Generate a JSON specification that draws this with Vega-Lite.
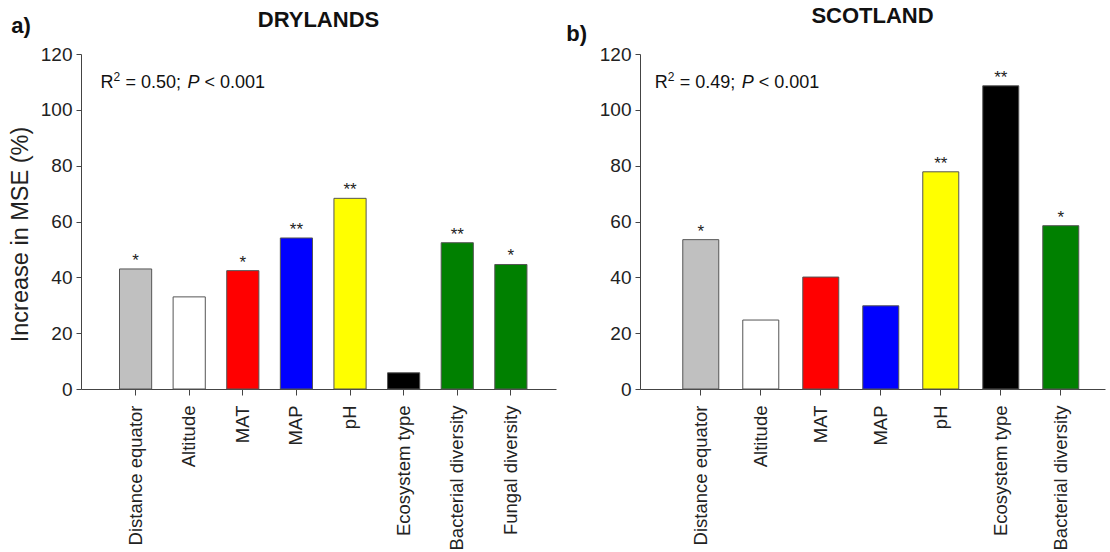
{
  "$schema": "https://vega.github.io/schema/vega-lite/v6.json",
  "padding": {"left": 8, "top": 5, "right": 5, "bottom": 0},
  "config": {
    "font": "Liberation Sans",
    "view": {"stroke": null},
    "axis": {"grid": false, "domainColor": "#444444", "tickColor": "#444444", "labelColor": "#222222", "titleColor": "#222222", "labelFont": "Liberation Sans", "titleFont": "Liberation Sans"}
  },
  "datasets": {
    "drylands": [
      {"variable": "Distance equator", "value": 43.0, "sig": "*"},
      {"variable": "Altitude", "value": 33.0, "sig": ""},
      {"variable": "MAT", "value": 42.4, "sig": "*"},
      {"variable": "MAP", "value": 54.1, "sig": "**"},
      {"variable": "pH", "value": 68.3, "sig": "**"},
      {"variable": "Ecosystem type", "value": 5.8, "sig": ""},
      {"variable": "Bacterial diversity", "value": 52.4, "sig": "**"},
      {"variable": "Fungal diversity", "value": 44.6, "sig": "*"}
    ],
    "scotland": [
      {"variable": "Distance equator", "value": 53.5, "sig": "*"},
      {"variable": "Altitude", "value": 24.7, "sig": ""},
      {"variable": "MAT", "value": 40.1, "sig": ""},
      {"variable": "MAP", "value": 29.8, "sig": ""},
      {"variable": "pH", "value": 77.8, "sig": "**"},
      {"variable": "Ecosystem type", "value": 108.6, "sig": "**"},
      {"variable": "Bacterial diversity", "value": 58.5, "sig": "*"}
    ]
  },
  "hconcat": [
    {
      "title": {"text": "a)", "anchor": "start", "frame": "bounds", "fontSize": 22, "fontWeight": "bold", "color": "#111111", "baseline": "alphabetic", "offset": -46, "dx": 3},
      "vconcat": [
        {
          "width": 475,
          "height": 335,
          "title": {"text": "DRYLANDS", "anchor": "middle", "frame": "group", "fontSize": 22, "fontWeight": "bold", "color": "#111111", "baseline": "alphabetic", "offset": -4},
          "data": {"name": "drylands"},
          "encoding": {
            "x": {
              "field": "variable", "type": "nominal", "sort": null,
              "scale": {"paddingInner": 0.4, "paddingOuter": 0.63, "align": 0.57},
              "axis": {"title": null, "labelAngle": 270, "labelAlign": "right", "labelBaseline": "middle", "labelFontSize": 18.5, "labelPadding": 10, "tickSize": 6, "labelLimit": 300}
            }
          },
          "layer": [
            {
              "mark": {"type": "bar", "stroke": "#555555", "strokeWidth": 1},
              "encoding": {
                "y": {
                  "field": "value", "type": "quantitative",
                  "scale": {"domain": [0, 120], "nice": false},
                  "axis": {"title": "Increase in MSE (%)", "titleFontSize": 23.5, "titleFontWeight": "normal", "titlePadding": 8, "titleY": 180, "values": [0, 20, 40, 60, 80, 100, 120], "labelFontSize": 19, "tickSize": 5, "labelPadding": 4}
                },
                "color": {
                  "field": "variable", "type": "nominal", "legend": null,
                  "scale": {
                    "domain": ["Distance equator", "Altitude", "MAT", "MAP", "pH", "Ecosystem type", "Bacterial diversity", "Fungal diversity"],
                    "range": ["#c0c0c0", "#ffffff", "#ff0000", "#0000ff", "#ffff00", "#000000", "#008000", "#008000"]
                  }
                }
              }
            },
            {
              "mark": {"type": "text", "baseline": "alphabetic", "dy": -3, "fontSize": 17, "color": "#222222"},
              "encoding": {
                "y": {"field": "value", "type": "quantitative"},
                "text": {"field": "sig"}
              }
            },
            {
              "data": {"values": [{"r2": 0.5}]},
              "mark": {"type": "text", "text": "R", "align": "left", "baseline": "alphabetic", "fontSize": 18, "color": "#111111", "dx": -19},
              "encoding": {"x": {"datum": "Distance equator", "bandPosition": 0}, "y": {"datum": 108}}
            },
            {
              "data": {"values": [{"r2": 0.5}]},
              "mark": {"type": "text", "text": "2", "align": "left", "baseline": "alphabetic", "fontSize": 12, "color": "#111111", "dx": -6, "dy": -7},
              "encoding": {"x": {"datum": "Distance equator", "bandPosition": 0}, "y": {"datum": 108}}
            },
            {
              "data": {"values": [{"r2": 0.5}]},
              "mark": {"type": "text", "text": "= 0.50;", "align": "left", "baseline": "alphabetic", "fontSize": 18, "color": "#111111", "dx": 6},
              "encoding": {"x": {"datum": "Distance equator", "bandPosition": 0}, "y": {"datum": 108}}
            },
            {
              "data": {"values": [{"r2": 0.5}]},
              "mark": {"type": "text", "text": "P", "align": "left", "baseline": "alphabetic", "fontSize": 18, "fontStyle": "italic", "color": "#111111", "dx": 68},
              "encoding": {"x": {"datum": "Distance equator", "bandPosition": 0}, "y": {"datum": 108}}
            },
            {
              "data": {"values": [{"r2": 0.5}]},
              "mark": {"type": "text", "text": "< 0.001", "align": "left", "baseline": "alphabetic", "fontSize": 18, "color": "#111111", "dx": 85},
              "encoding": {"x": {"datum": "Distance equator", "bandPosition": 0}, "y": {"datum": 108}}
            }
          ]
        }
      ]
    },
    {
      "title": {"text": "b)", "anchor": "start", "frame": "bounds", "fontSize": 22, "fontWeight": "bold", "color": "#111111", "baseline": "alphabetic", "offset": -58, "dx": -33},
      "vconcat": [
        {
          "width": 465,
          "height": 335,
          "title": {"text": "SCOTLAND", "anchor": "middle", "frame": "group", "fontSize": 22, "fontWeight": "bold", "color": "#111111", "baseline": "alphabetic", "offset": 0},
          "data": {"name": "scotland"},
          "encoding": {
            "x": {
              "field": "variable", "type": "nominal", "sort": null,
              "scale": {"paddingInner": 0.4, "paddingOuter": 0.575, "align": 0.62},
              "axis": {"title": null, "labelAngle": 270, "labelAlign": "right", "labelBaseline": "middle", "labelFontSize": 18.5, "labelPadding": 10, "tickSize": 6, "labelLimit": 300}
            }
          },
          "layer": [
            {
              "mark": {"type": "bar", "stroke": "#555555", "strokeWidth": 1},
              "encoding": {
                "y": {
                  "field": "value", "type": "quantitative",
                  "scale": {"domain": [0, 120], "nice": false},
                  "axis": {"title": null, "values": [0, 20, 40, 60, 80, 100, 120], "labelFontSize": 19, "tickSize": 5, "labelPadding": 4}
                },
                "color": {
                  "field": "variable", "type": "nominal", "legend": null,
                  "scale": {
                    "domain": ["Distance equator", "Altitude", "MAT", "MAP", "pH", "Ecosystem type", "Bacterial diversity", "Fungal diversity"],
                    "range": ["#c0c0c0", "#ffffff", "#ff0000", "#0000ff", "#ffff00", "#000000", "#008000", "#008000"]
                  }
                }
              }
            },
            {
              "mark": {"type": "text", "baseline": "alphabetic", "dy": -3, "fontSize": 17, "color": "#222222"},
              "encoding": {
                "y": {"field": "value", "type": "quantitative"},
                "text": {"field": "sig"}
              }
            },
            {
              "data": {"values": [{"r2": 0.49}]},
              "mark": {"type": "text", "text": "R", "align": "left", "baseline": "alphabetic", "fontSize": 18, "color": "#111111", "dx": -28},
              "encoding": {"x": {"datum": "Distance equator", "bandPosition": 0}, "y": {"datum": 108}}
            },
            {
              "data": {"values": [{"r2": 0.49}]},
              "mark": {"type": "text", "text": "2", "align": "left", "baseline": "alphabetic", "fontSize": 12, "color": "#111111", "dx": -15, "dy": -7},
              "encoding": {"x": {"datum": "Distance equator", "bandPosition": 0}, "y": {"datum": 108}}
            },
            {
              "data": {"values": [{"r2": 0.49}]},
              "mark": {"type": "text", "text": "= 0.49;", "align": "left", "baseline": "alphabetic", "fontSize": 18, "color": "#111111", "dx": -3},
              "encoding": {"x": {"datum": "Distance equator", "bandPosition": 0}, "y": {"datum": 108}}
            },
            {
              "data": {"values": [{"r2": 0.49}]},
              "mark": {"type": "text", "text": "P", "align": "left", "baseline": "alphabetic", "fontSize": 18, "fontStyle": "italic", "color": "#111111", "dx": 59},
              "encoding": {"x": {"datum": "Distance equator", "bandPosition": 0}, "y": {"datum": 108}}
            },
            {
              "data": {"values": [{"r2": 0.49}]},
              "mark": {"type": "text", "text": "< 0.001", "align": "left", "baseline": "alphabetic", "fontSize": 18, "color": "#111111", "dx": 76},
              "encoding": {"x": {"datum": "Distance equator", "bandPosition": 0}, "y": {"datum": 108}}
            }
          ]
        }
      ]
    }
  ],
  "spacing": 10
}
